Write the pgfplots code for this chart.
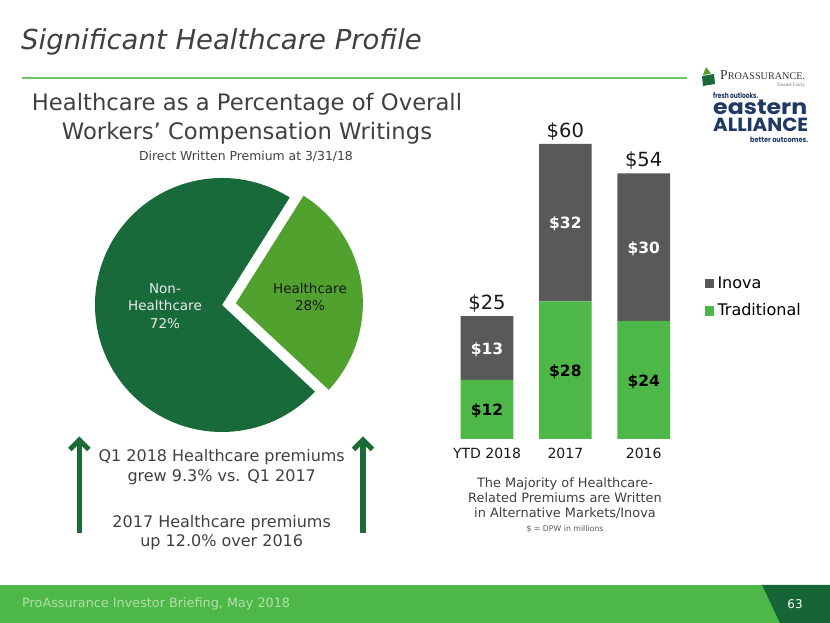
\documentclass[border=0pt]{standalone}
\usepackage{fontspec}
\setmainfont{DejaVu Sans}
\newfontfamily\serifx{Liberation Serif}
\newfontfamily\logof{Poppins}
\usepackage{graphicx}
\usepackage{pgfplots}
\pgfplotsset{compat=1.18}
\usepackage{pgfplotstable}

\definecolor{txt}{HTML}{404040}
\definecolor{pgreen}{HTML}{186A3B}
\definecolor{agreen}{HTML}{1B6B36}
\definecolor{hgreen}{HTML}{50A12D}
\definecolor{bgreen}{HTML}{4DB848}
\definecolor{bgray}{HTML}{595959}
\definecolor{fgreen}{HTML}{4DB848}
\definecolor{fdark}{HTML}{176537}
\definecolor{ftxt}{HTML}{B4DEAA}
\definecolor{navy}{HTML}{1F3864}
\definecolor{linegreen}{HTML}{6CC46A}

\newcommand\fs[2]{\fontsize{#1pt}{#2pt}\selectfont}

\pgfplotstableread{
x trad inova total
0 12 13 25
1 28 32 60
2 24 30 54
}\bardata

\pgfplotsset{barax/.style={
  x=78.35pt, y=4.917pt,
  anchor=origin, at={(487pt,184pt)},
  xmin=-0.5, xmax=2.5, ymin=0, ymax=62,
  bar width=52.7pt,
  axis line style={draw=none}, tick style={draw=none},
  ytick=\empty, clip=false,
  /pgf/number format/assume math mode=true,
}}

% pie shares (percent)
\pgfmathsetmacro{\pieHC}{28}
\pgfmathsetmacro{\pieS}{-43}
\pgfmathsetmacro{\pieH}{\pieS+\pieHC*3.6}
\pgfmathsetmacro{\pieN}{\pieS+360}
\pgfmathsetmacro{\pieM}{\pieS+\pieHC*1.8}

\begin{document}
\begin{tikzpicture}[x=1pt,y=1pt]
\path[use as bounding box] (0,0) rectangle (830,623);
\fill[white] (0,0) rectangle (830,623);

% ---- title
\node[anchor=base west, inner sep=0, text=txt, font=\itshape\fs{27.5}{33}] at (21,573.7) {Significant Healthcare Profile};
\draw[linegreen, line width=1.6pt] (22,545) -- (687,545);

% ---- logo
\fill[pgreen] (703,537) -- (715,539) -- (714,549) -- (702,547) -- cycle;
\fill[hgreen] (703,548) -- (706,556) -- (711,549.5) -- cycle;
\node[anchor=west, inner sep=0, text=black!80] at (720,548) {\resizebox{85pt}{!}{\serifx\fs{12}{14}P\fs{9}{11}ROASSURANCE.}};
\node[anchor=east, inner sep=0, text=black!55] at (805,538) {\serifx\fs{5}{6}Treated Fairly};
\node[anchor=base west, inner sep=0, text=navy] at (713,524) {\resizebox{45pt}{6pt}{\logof\bfseries fresh outlooks.}};
\node[anchor=base west, inner sep=0, text=navy] at (713,508) {\resizebox{94pt}{14.5pt}{\logof\bfseries eastern}};
\node[anchor=base west, inner sep=0, text=navy] at (713,491) {\resizebox{95pt}{13.5pt}{\logof\bfseries ALLIANCE}};
\node[anchor=base west, inner sep=0, text=navy] at (750,480.5) {\resizebox{58pt}{5.5pt}{\logof\bfseries better outcomes.}};

% ---- subtitle
\node[anchor=base, inner sep=0, text=txt, font=\fs{22.7}{27}] at (247,512.3) {Healthcare as a Percentage of Overall};
\node[anchor=base, inner sep=0, text=txt, font=\fs{22.7}{27}] at (247,483) {Workers’ Compensation Writings};
\node[inner sep=0, text=txt, font=\fs{12.4}{15}] at (246,466.3) {Direct Written Premium at 3/31/18};

% ---- pie (72% / 28%)
\fill[pgreen] (222,318) -- ++(\pieH:127) arc[start angle=\pieH, end angle=\pieN, radius=127] -- cycle;
\begin{scope}[shift={(\pieM:14)}]
\fill[hgreen] (222,318) -- ++(\pieS:127) arc[start angle=\pieS, end angle=\pieH, radius=127] -- cycle;
\end{scope}
\node[align=center, text=black!8, font=\fs{13.5}{17.5}] at (165,317.3) {Non-\\Healthcare\\72\%};
\node[align=center, text=black!90, font=\fs{13.5}{17.5}] at (310,326) {Healthcare\\28\%};

% ---- arrows
\foreach \ax in {79.3,363} {
  \draw[agreen, line width=5.5pt] (\ax,90) -- (\ax,182);
  \draw[agreen, line width=5pt, miter limit=4] (\ax-9.5,173.5) -- (\ax,183) -- (\ax+9.5,173.5);
}
\node[align=center, text=txt, font=\fs{16}{19.7}] at (221.7,156.2) {Q1 2018 Healthcare premiums\\grew 9.3\% vs. Q1 2017};
\node[align=center, text=txt, font=\fs{16}{19}] at (221.7,90.8) {2017 Healthcare premiums\\up 12.0\% over 2016};

% ---- bar chart (stacked)
\begin{axis}[barax,
  ybar stacked,
  xtick={0,1,2}, xticklabels={YTD 2018,2017,2016},
  xticklabel style={font=\fs{14}{16}, text=black!90, yshift=-6pt},
  legend style={draw=none, fill=none, at={(1.092,0.466)}, anchor=west,
    font=\fs{16}{19}, inner sep=0pt, row sep=11pt, nodes={inner sep=1.5pt},
    /tikz/every odd column/.append style={column sep=2.5pt}},
  legend cell align=left,
]
\addlegendimage{legend image code/.code={\fill[bgray] (0pt,-4.2pt) rectangle (8.4pt,4.2pt);}}
\addlegendentry{Inova}
\addlegendimage{legend image code/.code={\fill[bgreen] (0pt,-4.2pt) rectangle (8.4pt,4.2pt);}}
\addlegendentry{Traditional}

\addplot[fill=bgreen, draw=none, forget plot, point meta=explicit,
  nodes near coords={\textbf{\$\pgfmathprintnumber{\pgfplotspointmeta}}},
  nodes near coords style={anchor=center, yshift=-1.5pt, font=\bfseries\fs{15.5}{18}, text=black}]
  table[x=x, y=trad, meta=trad] {\bardata};
\addplot[fill=bgray, draw=none, forget plot, point meta=explicit,
  nodes near coords={\textbf{\$\pgfmathprintnumber{\pgfplotspointmeta}}},
  nodes near coords style={anchor=center, yshift=-1.5pt, font=\bfseries\fs{15.5}{18}, text=white}]
  table[x=x, y=inova, meta=inova] {\bardata};
\end{axis}

% ---- totals (overlay axis, same geometry)
\begin{axis}[barax, ybar, xtick=\empty]
\addplot[draw=none, fill=none, point meta=explicit,
  nodes near coords={\$\pgfmathprintnumber{\pgfplotspointmeta}},
  nodes near coords style={anchor=base, inner sep=0pt, yshift=6.5pt, font=\fs{19.5}{22}, text=black!90}]
  table[x=x, y=total, meta=total] {\bardata};
\end{axis}

\node[align=center, text=txt, font=\fs{12.9}{15}] at (565,124.7) {The Majority of Healthcare-\\Related Premiums are Written\\in Alternative Markets/Inova};
\node[text=black!65, font=\fs{7.8}{9}] at (565,94) {\$ = DPW in millions};

% ---- footer
\fill[fgreen] (0,0) rectangle (830,38);
\fill[fdark] (762,38) -- (830,38) -- (830,0) -- (780,0) -- cycle;
\node[anchor=west, inner sep=0, text=ftxt, font=\fs{12.8}{15}] at (22,19) {ProAssurance Investor Briefing, May 2018};
\node[text=white, font=\fs{12}{14}] at (795,19) {63};
\end{tikzpicture}
\end{document}
